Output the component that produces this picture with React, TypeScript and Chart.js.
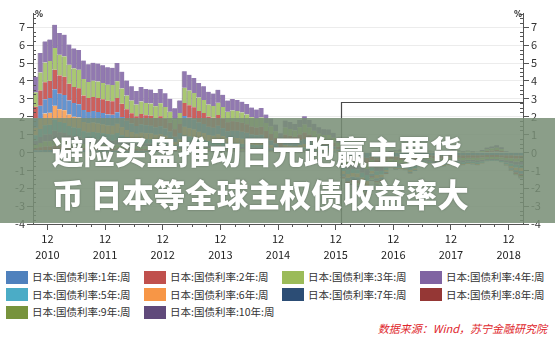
import React, { useEffect, useRef } from "react";
import { Chart, registerables } from "chart.js";
Chart.register(...registerables);

// Monthly data, Oct 2010 .. Mar 2019 (102 months). X value = months since Jan 2010.
const FIRST_MONTH_INDEX = 9; // Oct 2010
const SERIES_NAMES = [
  "日本:国债利率:1年:周", "日本:国债利率:2年:周", "日本:国债利率:3年:周", "日本:国债利率:4年:周",
  "日本:国债利率:5年:周", "日本:国债利率:6年:周", "日本:国债利率:7年:周", "日本:国债利率:8年:周",
  "日本:国债利率:9年:周", "日本:国债利率:10年:周",
];
const LEGEND_COLORS = ["#4F81BD", "#C0504D", "#9BBB59", "#8064A2", "#4BACC6", "#F79646", "#2C4D75", "#953735", "#77933C", "#604A7B"];
const BAR_COLORS = ["#5b8cc8", "#c85a57", "#a6c46d", "#8c74ad", "#5ab4cc", "#f8a862", "#6494cf", "#cc605c", "#a9c772", "#9179b0"];

const Y1 = [.12,.13,.14,.14,.15,.15,.14,.14,.13,.13, .12,.12,.12,.11,.11,.11,.10,.11,.10,.10, .10,.10,.10,.10,.10,.10,.10,.09,.08,.06, .05,.06,.06,.06,.06,.06,.06,.05,.05,.05, .05,.05,.05,.05,.05,.05,.05,.05,.04,.02, .01,.00,.01,.01,.01,.01,.01,.01,.00,.00, .00,.00,-.01,-.02,-.20,-.22,-.22,-.23,-.27,-.30, -.22,-.28,-.28,-.24,-.20,-.22,-.22,-.22,-.23,-.22, -.19,-.15,-.15,-.17,-.17,-.18,-.16,-.15,-.15,-.16, -.15,-.15,-.16,-.15,-.14,-.14,-.14,-.15,-.16,-.16, -.17,-.17];
const Y2 = [.13,.16,.20,.20,.24,.22,.21,.19,.18,.17, .15,.14,.14,.14,.13,.13,.12,.13,.12,.11, .10,.10,.10,.10,.10,.10,.10,.09,.08,.06, .06,.10,.10,.09,.08,.08,.07,.07,.07,.07, .06,.06,.06,.06,.06,.06,.05,.05,.04,.02, .01,.00,.02,.02,.02,.02,.02,.02,.01,.01, .01,.01,.00,-.02,-.20,-.23,-.23,-.24,-.28,-.31, -.20,-.27,-.27,-.22,-.18,-.20,-.20,-.22,-.22,-.20, -.12,-.11,-.13,-.16,-.16,-.17,-.15,-.14,-.14,-.15, -.14,-.14,-.14,-.13,-.12,-.12,-.12,-.13,-.15,-.16, -.17,-.17];
const Y3 = [.17,.24,.28,.29,.35,.32,.31,.27,.25,.24, .21,.20,.21,.20,.19,.18,.18,.19,.17,.15, .14,.13,.13,.13,.13,.12,.12,.11,.10,.07, .08,.17,.16,.15,.13,.12,.11,.10,.11,.10, .09,.09,.09,.08,.08,.07,.07,.07,.05,.04, .02,.01,.04,.03,.03,.04,.05,.04,.03,.02, .02,.02,.01,-.01,-.22,-.25,-.24,-.24,-.29,-.32, -.21,-.26,-.25,-.20,-.16,-.18,-.18,-.19,-.20,-.18, -.13,-.11,-.13,-.15,-.14,-.14,-.13,-.12,-.12,-.13, -.12,-.12,-.13,-.12,-.10,-.10,-.10,-.11,-.13,-.15, -.17,-.17];
const Y4 = [.23,.33,.38,.39,.48,.44,.43,.38,.36,.35, .30,.28,.29,.28,.27,.26,.26,.28,.24,.21, .19,.17,.18,.18,.17,.16,.16,.15,.13,.09, .12,.26,.24,.23,.20,.18,.16,.15,.17,.15, .13,.13,.13,.12,.11,.10,.10,.10,.08,.06, .04,.02,.07,.06,.06,.07,.08,.07,.05,.04, .04,.04,.03,.00,-.22,-.26,-.24,-.24,-.29,-.33, -.21,-.24,-.23,-.18,-.14,-.15,-.15,-.16,-.18,-.16, -.12,-.09,-.11,-.13,-.12,-.12,-.11,-.10,-.10,-.11, -.10,-.10,-.11,-.10,-.08,-.07,-.07,-.09,-.12,-.15, -.17,-.18];
const Y5 = [.31,.45,.52,.53,.62,.57,.56,.50,.47,.46, .40,.38,.39,.38,.37,.35,.35,.38,.33,.29, .26,.23,.25,.24,.23,.21,.22,.20,.17,.12, .17,.37,.34,.32,.29,.27,.24,.23,.25,.22, .19,.20,.19,.18,.17,.15,.14,.15,.12,.10, .07,.04,.11,.10,.09,.11,.12,.11,.09,.07, .06,.06,.05,.02,-.20,-.24,-.22,-.22,-.27,-.32, -.18,-.21,-.20,-.14,-.10,-.11,-.11,-.11,-.15,-.13, -.10,-.06,-.08,-.10,-.09,-.09,-.08,-.08,-.08,-.09, -.08,-.09,-.10,-.08,-.05,-.04,-.04,-.06,-.10,-.14, -.16,-.18];
const Y6 = [.42,.58,.66,.67,.77,.72,.71,.64,.61,.60, .53,.51,.52,.51,.50,.48,.48,.51,.45,.40, .36,.32,.35,.33,.33,.30,.32,.29,.25,.19, .25,.48,.46,.44,.40,.38,.34,.33,.36,.32, .28,.29,.29,.28,.26,.23,.22,.23,.19,.17, .13,.08,.17,.16,.15,.17,.19,.17,.15,.12, .11,.11,.09,.05,-.17,-.22,-.20,-.21,-.26,-.31, -.16,-.18,-.16,-.10,-.06,-.07,-.06,-.07,-.11,-.09, -.07,-.03,-.05,-.07,-.05,-.06,-.05,-.04,-.04,-.06, -.05,-.05,-.06,-.04,-.01,.00,.00,-.02,-.07,-.12, -.15,-.17];
const Y7 = [.52,.72,.80,.82,.93,.87,.86,.79,.76,.75, .67,.64,.65,.65,.64,.62,.62,.65,.58,.52, .47,.43,.46,.44,.44,.41,.44,.41,.36,.29, .36,.60,.58,.56,.52,.50,.46,.45,.48,.44, .39,.40,.40,.39,.37,.34,.33,.34,.29,.26, .22,.14,.25,.24,.22,.25,.28,.25,.22,.19, .18,.18,.15,.10,-.14,-.19,-.17,-.18,-.24,-.29, -.13,-.14,-.12,-.07,-.03,-.03,-.02,-.03,-.07,-.05, -.04,.00,-.02,-.04,-.02,-.02,-.01,.00,-.01,-.02, -.01,-.02,-.02,.00,.03,.04,.05,.03,-.03,-.08, -.12,-.15];
const Y8 = [.66,.86,.95,.97,1.08,1.02,1.01,.93,.90,.89, .80,.77,.78,.78,.77,.76,.76,.80,.73,.64, .58,.54,.58,.56,.56,.53,.57,.54,.49,.42, .50,.73,.70,.68,.64,.62,.57,.56,.60,.55, .50,.52,.51,.50,.48,.45,.43,.45,.39,.36, .31,.22,.33,.32,.30,.34,.37,.33,.30,.27, .25,.25,.22,.16,-.10,-.15,-.14,-.16,-.22,-.27, -.11,-.10,-.09,-.05,.00,.01,.02,.01,-.03,-.01, .00,.03,.01,.00,.02,.01,.02,.03,.02,.01, .02,.01,.00,.03,.06,.07,.09,.06,.00,-.05, -.09,-.12];
const Y9 = [.80,1.00,1.10,1.11,1.22,1.15,1.14,1.06,1.04,1.03, .93,.90,.91,.92,.91,.90,.90,.94,.86,.76, .70,.66,.70,.68,.68,.65,.72,.67,.62,.55, .62,.85,.82,.79,.75,.72,.67,.66,.69,.65, .59,.61,.60,.58,.55,.52,.50,.52,.45,.42, .37,.28,.39,.37,.35,.40,.44,.39,.36,.33, .31,.31,.27,.21,-.04,-.09,-.09,-.12,-.18,-.24, -.09,-.07,-.06,-.02,.03,.05,.06,.05,.00,.02, .03,.06,.04,.03,.05,.04,.05,.07,.05,.03, .04,.03,.02,.05,.09,.11,.13,.09,.03,-.02, -.05,-.08];
const Y10 = [.88,1.10,1.18,1.20,1.30,1.22,1.22,1.14,1.12,1.11, 1.03,1.00,1.01,1.00,.99,.98,.97,1.02,.94,.84, .80,.76,.81,.79,.78,.74,.80,.76,.72,.62, .70,.92,.88,.85,.81,.77,.71,.70,.73,.68, .62,.64,.62,.60,.58,.54,.51,.53,.47,.45, .38,.28,.40,.39,.36,.41,.46,.42,.39,.36, .32,.31,.28,.22,.00,-.05,-.07,-.10,-.16,-.22, -.08,-.06,-.06,.00,.05,.07,.09,.07,.02,.04, .05,.08,.06,.03,.07,.04,.05,.08,.06,.04, .05,.04,.03,.06,.10,.12,.14,.11,.04,.00, -.03,-.06];
const SERIES = [Y1, Y2, Y3, Y4, Y5, Y6, Y7, Y8, Y9, Y10];

const TICK_MONTH = "12";
const TICK_YEARS = ["2010", "2011", "2012", "2013", "2014", "2015", "2016", "2017", "2018"];
const TITLE_LINES = ["避险买盘推动日元跑赢主要货", "币 日本等全球主权债收益率大"];
const SOURCE = "数据来源：Wind，苏宁金融研究院";
const BOX_FROM_MONTH = 73.1; // highlighted window start (early Feb 2016)
const BOX_TOP = 2.85;

const FONT = "'Noto Sans CJK SC', 'Noto Sans', sans-serif";

const decor = {
  id: "decor",
  afterDatasetsDraw(chart: any) {
    const { ctx, chartArea: a, scales } = chart;
    const x = scales.x, y = scales.y;
    ctx.save();
    ctx.strokeStyle = "#555";
    ctx.lineWidth = 1;
    ctx.beginPath();
    for (let v = -4; v <= 7.76; v += 0.25) {
      if (Math.abs(v - Math.round(v)) < 1e-6) continue;
      const py = Math.round(y.getPixelForValue(v)) + 0.5;
      ctx.moveTo(a.left, py); ctx.lineTo(a.left + 3, py);
      ctx.moveTo(a.right - 3, py); ctx.lineTo(a.right, py);
    }
    for (let m = 12; m < x.max; m += 3) {
      if (m % 12 === 0) continue;
      const px = Math.round(x.getPixelForValue(m)) + 0.5;
      ctx.moveTo(px, a.bottom); ctx.lineTo(px, a.bottom + 3);
    }
    ctx.stroke();
    const rx = Math.round(x.getPixelForValue(BOX_FROM_MONTH)) + 0.5;
    const ry = Math.round(y.getPixelForValue(BOX_TOP)) + 0.5;
    ctx.strokeStyle = "#4a4a4a";
    ctx.lineWidth = 1.2;
    ctx.beginPath();
    ctx.moveTo(rx, a.bottom); ctx.lineTo(rx, ry); ctx.lineTo(a.right, ry);
    ctx.stroke();
    ctx.fillStyle = "#333";
    ctx.font = "bold 8px 'DejaVu Sans'";
    ctx.textBaseline = "middle";
    ctx.textAlign = "left";
    ctx.fillText("%", a.left + 2, a.top + 2);
    ctx.textAlign = "right";
    ctx.fillText("%", a.right - 1, a.top + 2);
    ctx.restore();
  },
};

export default function App() {
  const ref = useRef<HTMLCanvasElement | null>(null);
  useEffect(() => {
    if (!ref.current) return;
    const datasets = SERIES.map((vals, k) => ({
      label: SERIES_NAMES[k],
      data: vals.map((v, i) => ({ x: FIRST_MONTH_INDEX + i + 0.5, y: v })),
      backgroundColor: BAR_COLORS[k],
      borderColor: "rgba(85,65,105,0.55)",
      borderWidth: { left: 1, right: 0, top: 0, bottom: 0 },
      borderSkipped: false,
      barPercentage: 1,
      categoryPercentage: 1,
    }));
    const yCommon = {
      type: "linear",
      stacked: true,
      min: -4,
      max: 7.8,
      border: { color: "#555", width: 1 },
      ticks: {
        stepSize: 1,
        includeBounds: false,
        color: "#333",
        padding: 2,
        font: { family: FONT, size: 11 },
        callback: (v: number) => (Number.isInteger(v) ? String(v) : ""),
      },
    };
    const chart = new Chart(ref.current, {
      type: "bar",
      data: { datasets: datasets as any },
      options: {
        responsive: false,
        animation: false,
        devicePixelRatio: 1,
        layout: { padding: { top: 13, left: 0, right: 0, bottom: 0 } },
        plugins: { legend: { display: false }, tooltip: { enabled: false } },
        scales: {
          x: {
            type: "linear",
            stacked: true,
            offset: false,
            min: FIRST_MONTH_INDEX,
            max: FIRST_MONTH_INDEX + SERIES[0].length,
            border: { color: "#555", width: 1 },
            grid: { drawOnChartArea: false, offset: false, tickLength: 6, tickColor: "#555" },
            afterBuildTicks: (s: any) => {
              s.ticks = TICK_YEARS.map((_, i) => ({ value: 12 * (i + 1) }));
            },
            afterFit: (s: any) => { s.height = 44; },
            ticks: {
              autoSkip: false,
              maxRotation: 0,
              color: "#222",
              padding: 1,
              font: { family: FONT, size: 11, lineHeight: 1.45 },
              callback: (v: number) => [TICK_MONTH, TICK_YEARS[Math.round(v / 12) - 1] ?? ""],
            },
          },
          y: {
            ...yCommon,
            position: "left",
            grid: { color: "#ececec", tickLength: 6, tickColor: "#555" },
            afterFit: (s: any) => { s.width = 33; },
          },
          y2: {
            ...yCommon,
            position: "right",
            grid: { drawOnChartArea: false, tickLength: 6, tickColor: "#555" },
            afterFit: (s: any) => { s.width = 32; },
          },
        },
      } as any,
      plugins: [decor],
    });
    return () => chart.destroy();
  }, []);

  const cols = [6, 144, 282, 420];
  const rows = [277, 294.5, 312];

  return (
    <div style={{ position: "fixed", left: 0, top: 0, width: 555, height: 342, background: "#fff", overflow: "hidden", fontFamily: FONT }}>
      <canvas ref={ref} width={555} height={268} style={{ position: "absolute", left: 0, top: 0, width: 555, height: 268 }} />
      <div style={{ position: "absolute", left: 0, top: 118, width: 555, height: 105, background: "rgba(120,142,118,0.86)" }} />
      {TITLE_LINES.map((t, i) => (
        <div key={i} style={{ position: "absolute", left: 52, top: 134 + i * 43, fontSize: 31.5, lineHeight: "32px", fontWeight: 900, color: "#fff", whiteSpace: "pre", textShadow: "0 0 2px rgba(50,60,50,0.55)" }}>{t}</div>
      ))}
      {SERIES_NAMES.map((name, k) => {
        const c = cols[k % 4];
        const r = rows[Math.floor(k / 4)];
        return (
          <React.Fragment key={k}>
            <div style={{ position: "absolute", left: c, top: r - 6.5, width: 22, height: 13, background: LEGEND_COLORS[k] }} />
            <div style={{ position: "absolute", left: c + 26, top: r - 8, fontSize: 10.5, lineHeight: "16px", color: "#333", whiteSpace: "nowrap" }}>{name}</div>
          </React.Fragment>
        );
      })}
      <div style={{ position: "absolute", right: 8, top: 320, fontSize: 11, lineHeight: "16px", color: "#e0262b", fontStyle: "italic", whiteSpace: "nowrap" }}>{SOURCE}</div>
    </div>
  );
}
